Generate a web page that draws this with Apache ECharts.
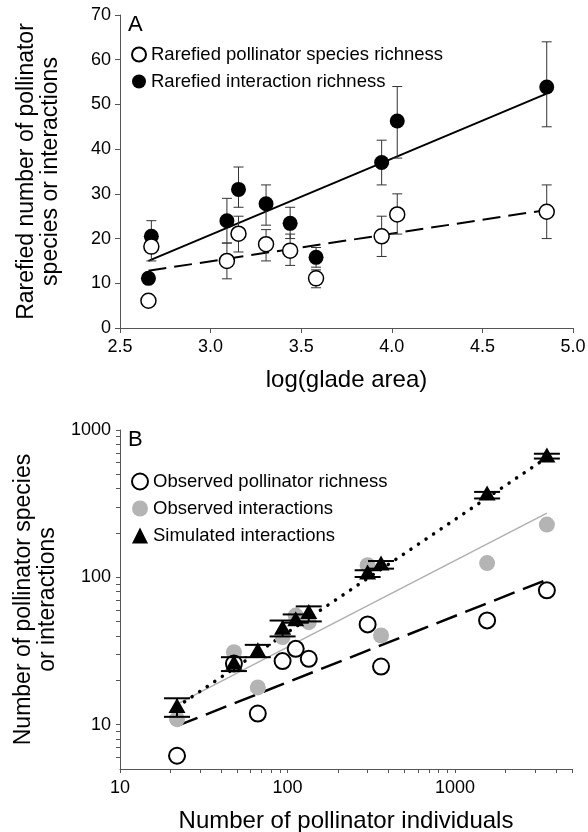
<!DOCTYPE html>
<html><head><meta charset="utf-8">
<script src="https://cdn.jsdelivr.net/npm/echarts@6/dist/echarts.min.js"></script>
<style>html,body{margin:0;padding:0;background:#fff}#c{width:588px;height:832px}</style>
</head><body><div id="c"></div>
<script>
const FONT = "'Liberation Sans', Arial, Helvetica, sans-serif";

// ---------- Panel A data ----------
const gladeLogArea    = [2.657, 2.673, 3.09, 3.154, 3.306, 3.439, 3.582, 3.944, 4.03, 4.855];
const rarefiedSpecies = [6.1, 18.2, 15.0, 21.1, 18.75, 17.3, 11.1, 20.5, 25.4, 26.0];
const speciesLow      = [null, 15, 11, 17, 15, 14, 9, 16, 21, 20];
const speciesHigh     = [null, 21.5, 19, 25, 22, 21, 13, 25, 30, 32];
const rarefiedInter   = [11.1, 20.5, 24.0, 31.0, 27.8, 23.4, 15.8, 37.0, 46.3, 53.9];
const interLow        = [null, 17, 19, 27, 23, 20, 13.6, 32, 38, 45];
const interHigh       = [null, 24, 29, 36, 32, 27, 18, 42, 54, 64];
const fitXA           = [2.657, 4.855];
const fitSpeciesA     = [12.8, 26.4];
const fitInterA       = [15.0, 52.4];

// ---------- Panel B data ----------
const individuals   = [21.9, 47.9, 66.5, 93.5, 112, 134, 301, 362, 1556, 3540];
const obsRichness   = [6.15, 26, 11.9, 27.0, 32.7, 28.0, 47.9, 24.8, 51.0, 81.6];
const obsInter      = [10.9, 31.0, 17.9, 39.3, 55, 49.6, 120.8, 40.3, 125, 228];
const simInter      = [13.5, 26.5, 32.2, 45.9, 52.4, 58.7, 108.6, 125, 374, 676];
const simLow        = [11.3, 23.1, 28.7, 39.7, 49.2, 50.2, 100.5, 114.5, 343, 640];
const simHigh       = [15.1, 28.7, 34.8, 50.9, 56, 63.5, 111.7, 129, 380, 690];
const fitXB         = [21.9, 3540];
const fitRichB      = [9.8, 96.4];
const fitObsInterB  = [13.8, 273];
const fitSimB       = [13.2, 650];
const majorTicksXB  = [10, 100, 1000];
const minorTicksXB  = [20,30,40,50,60,70,80,90,200,300,400,500,600,700,800,900,2000,3000,4000,5000];
const majorTicksYB  = [10, 100, 1000];
const minorTicksYB  = [6,7,8,9,20,30,40,50,60,70,80,90,200,300,400,500,600,700,800,900];

const pairs = (xs, ys) => xs.map((x, i) => [x, ys[i]]);
const triples = (xs, lo, hi) => xs.map((x, i) => [x, lo[i], hi[i]]).filter(d => d[1] != null);

function errRender(capHalf, lw, color) {
  return function (params, api) {
    const x = api.value(0), lo = api.value(1), hi = api.value(2);
    const a = api.coord([x, lo]), b = api.coord([x, hi]);
    const st = { stroke: color, lineWidth: lw };
    return { type: 'group', children: [
      { type: 'line', shape: { x1: a[0], y1: a[1], x2: b[0], y2: b[1] }, style: st },
      { type: 'line', shape: { x1: a[0] - capHalf, y1: a[1], x2: a[0] + capHalf, y2: a[1] }, style: st },
      { type: 'line', shape: { x1: b[0] - capHalf, y1: b[1], x2: b[0] + capHalf, y2: b[1] }, style: st }
    ]};
  };
}

const axisCol = '#555';
const labelStyle = { color: '#000', fontSize: 18, fontFamily: FONT };
const yNameStyle = { color: '#000', fontSize: 23, fontFamily: FONT, lineHeight: 24 };
const xNameStyle = { color: '#000', fontSize: 24, fontFamily: FONT, lineHeight: 24 };
const plain = v => String(Math.round(v));

const chart = echarts.init(document.getElementById('c'), null, { renderer: 'canvas' });
chart.setOption({
  animation: false,
  backgroundColor: '#fff',
  title: [
    { text: 'A', left: 128, top: 14, padding: 0, textStyle: { fontSize: 22, fontWeight: 'normal', color: '#000', fontFamily: FONT } },
    { text: 'B', left: 128, top: 429, padding: 0, textStyle: { fontSize: 22, fontWeight: 'normal', color: '#000', fontFamily: FONT } }
  ],
  legend: [
    { orient: 'vertical', left: 131, top: 45, itemWidth: 14, itemHeight: 14, itemGap: 8, itemTextGap: 5, padding: 0,
      data: ['Rarefied pollinator species richness', 'Rarefied interaction richness'],
      textStyle: { fontSize: 18.5, color: '#000', fontFamily: FONT } },
    { orient: 'vertical', left: 131, top: 472, itemWidth: 16, itemHeight: 16, itemGap: 8, itemTextGap: 4, padding: 0,
      data: ['Observed pollinator richness', 'Observed interactions', 'Simulated interactions'],
      textStyle: { fontSize: 18.5, color: '#000', fontFamily: FONT } }
  ],
  grid: [
    { left: 120, top: 15, width: 453, height: 313, outerBoundsMode: 'none', containLabel: false },
    { left: 120, top: 430, width: 452, height: 339, outerBoundsMode: 'none', containLabel: false }
  ],
  xAxis: [
    { type: 'value', gridIndex: 0, min: 2.5, max: 5.0, interval: 0.5,
      name: 'log(glade area)', nameLocation: 'middle', nameGap: 40, nameTextStyle: xNameStyle,
      axisLine: { onZero: false, lineStyle: { color: axisCol, width: 1 } },
      axisTick: { length: 5, lineStyle: { color: axisCol } },
      axisLabel: Object.assign({ margin: 10, formatter: v => v.toFixed(1) }, labelStyle),
      splitLine: { show: false } },
    { type: 'log', logBase: 10, gridIndex: 1, min: 10, max: 5000, position: 'bottom',
      name: 'Number of pollinator individuals', nameLocation: 'middle', nameGap: 40, nameTextStyle: xNameStyle,
      axisLine: { onZero: false, lineStyle: { color: axisCol, width: 1 } },
      axisTick: { length: 4, customValues: majorTicksXB.concat(minorTicksXB), lineStyle: { color: axisCol } },
      axisLabel: Object.assign({ margin: 10, customValues: majorTicksXB, formatter: plain }, labelStyle),
      splitLine: { show: false }, minorTick: { show: false } }
  ],
  yAxis: [
    { type: 'value', gridIndex: 0, min: 0, max: 70, interval: 10,
      name: 'Rarefied number of pollinator\nspecies or interactions', nameLocation: 'middle', nameRotate: 90, nameGap: 57, nameTextStyle: yNameStyle,
      axisLine: { show: true, onZero: false, lineStyle: { color: axisCol, width: 1 } },
      axisTick: { show: true, length: 5, lineStyle: { color: axisCol } },
      axisLabel: Object.assign({ margin: 9 }, labelStyle),
      splitLine: { show: false } },
    { type: 'log', logBase: 10, gridIndex: 1, min: 5, max: 1000, position: 'left',
      name: 'Number of pollinator species\nor interactions', nameLocation: 'middle', nameRotate: 90, nameGap: 57, nameTextStyle: yNameStyle,
      axisLine: { show: true, onZero: false, lineStyle: { color: axisCol, width: 1 } },
      axisTick: { show: true, length: 4, customValues: majorTicksYB.concat(minorTicksYB), lineStyle: { color: axisCol } },
      axisLabel: Object.assign({ margin: 9, customValues: majorTicksYB, formatter: plain }, labelStyle),
      splitLine: { show: false } }
  ],
  series: [
    // ---- Panel A ----
    { type: 'line', xAxisIndex: 0, yAxisIndex: 0, data: pairs(fitXA, fitSpeciesA), symbol: 'none', z: 2, silent: true,
      lineStyle: { color: '#000', width: 2, type: [18, 8] } },
    { type: 'line', xAxisIndex: 0, yAxisIndex: 0, data: pairs(fitXA, fitInterA), symbol: 'none', z: 2, silent: true,
      lineStyle: { color: '#000', width: 2 } },
    { type: 'custom', xAxisIndex: 0, yAxisIndex: 0, data: triples(gladeLogArea, interLow, interHigh), z: 3,
      renderItem: errRender(5, 1, '#333'), encode: { x: 0, y: [1, 2] } },
    { type: 'custom', xAxisIndex: 0, yAxisIndex: 0, data: triples(gladeLogArea, speciesLow, speciesHigh), z: 3,
      renderItem: errRender(5, 1, '#333'), encode: { x: 0, y: [1, 2] } },
    { name: 'Rarefied interaction richness', type: 'scatter', xAxisIndex: 0, yAxisIndex: 0, z: 4,
      data: pairs(gladeLogArea, rarefiedInter), symbol: 'circle', symbolSize: 15,
      itemStyle: { color: '#000', borderColor: '#000', borderWidth: 0, opacity: 1 } },
    { name: 'Rarefied pollinator species richness', type: 'scatter', xAxisIndex: 0, yAxisIndex: 0, z: 5,
      data: pairs(gladeLogArea, rarefiedSpecies), symbol: 'circle', symbolSize: 15,
      itemStyle: { color: '#fff', borderColor: '#000', borderWidth: 1.5, opacity: 1 } },
    // ---- Panel B ----
    { type: 'line', xAxisIndex: 1, yAxisIndex: 1, data: pairs(fitXB, fitObsInterB), symbol: 'none', z: 2, silent: true,
      lineStyle: { color: '#b0b0b0', width: 1.5 } },
    { type: 'line', xAxisIndex: 1, yAxisIndex: 1, data: pairs(fitXB, fitRichB), symbol: 'none', z: 2, silent: true,
      lineStyle: { color: '#000', width: 2.5, type: [22, 9] } },
    { type: 'line', xAxisIndex: 1, yAxisIndex: 1, data: pairs(fitXB, fitSimB), symbol: 'none', z: 2, silent: true,
      lineStyle: { color: '#000', width: 3.5, type: [0.1, 9], cap: 'round' } },
    { name: 'Observed interactions', type: 'scatter', xAxisIndex: 1, yAxisIndex: 1, z: 3,
      data: pairs(individuals, obsInter), symbol: 'circle', symbolSize: 16,
      itemStyle: { color: '#b4b4b4', opacity: 1 } },
    { name: 'Observed pollinator richness', type: 'scatter', xAxisIndex: 1, yAxisIndex: 1, z: 4,
      data: pairs(individuals, obsRichness), symbol: 'circle', symbolSize: 16,
      itemStyle: { color: '#fff', borderColor: '#000', borderWidth: 2, opacity: 1 } },
    { type: 'custom', xAxisIndex: 1, yAxisIndex: 1, data: triples(individuals, simLow, simHigh), z: 5,
      renderItem: errRender(13, 2, '#000'), encode: { x: 0, y: [1, 2] } },
    { name: 'Simulated interactions', type: 'scatter', xAxisIndex: 1, yAxisIndex: 1, z: 6,
      data: pairs(individuals, simInter), symbol: 'triangle', symbolSize: [17, 15],
      itemStyle: { color: '#000', opacity: 1 } }
  ]
});
</script>
</body></html>
